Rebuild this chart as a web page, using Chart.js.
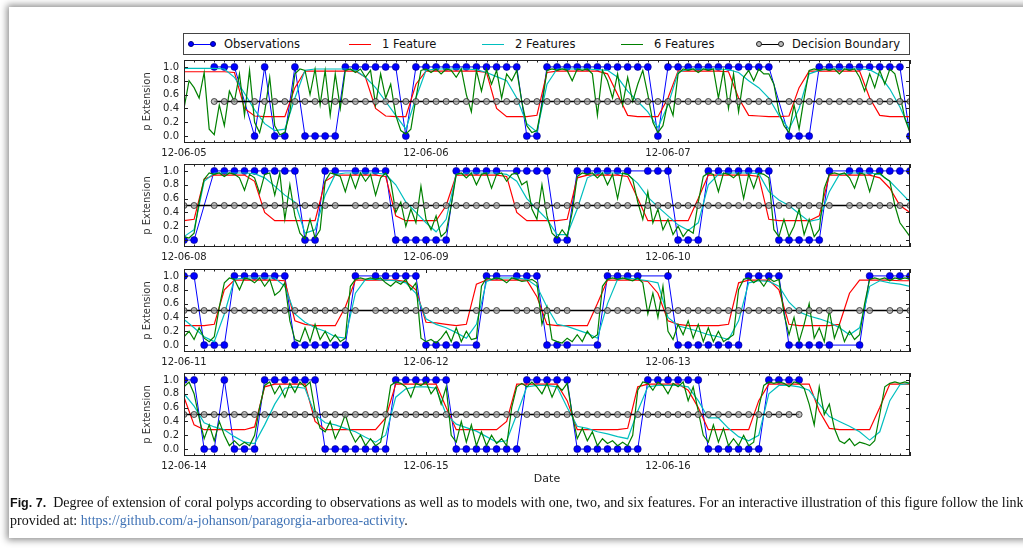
<!DOCTYPE html>
<html>
<head>
<meta charset="utf-8">
<script src="https://cdn.jsdelivr.net/npm/chart.js@4.4.1/dist/chart.umd.min.js"></script>
<style>
  body { margin: 0; width: 1023px; height: 558px; overflow: hidden; background: #fff; position: relative; font-family: 'DejaVu Sans', sans-serif; }
  #card { position: absolute; left: 9px; top: 7px; width: 1100px; height: 531px; background: #fff; box-shadow: 0 0 7px 2px rgba(0,0,0,0.45); }
  .panel { position: absolute; left: 130px; }
  #legend { position: absolute; left: 183px; top: 33px; width: 725px; height: 20px; border: 1px solid #444; background: #fff; }
  .item { position: absolute; top: 0; height: 20px; }
  .sample { position: absolute; left: 0; top: 10px; width: 22px; height: 0; border-top: 1.5px solid; }
  .dot { position: absolute; top: -4.5px; width: 6px; height: 6px; border-radius: 50%; box-sizing: border-box; }
  .label { position: absolute; top: 0; left: 33px; line-height: 20px; font-size: 11.5px; color: #111; white-space: nowrap; }
  #caption { position: absolute; left: 10px; top: 494px; font-family: 'Liberation Serif', serif; font-size: 14px; line-height: 18px; white-space: nowrap; color: #111; }
  #caption .fig { font-family: 'Liberation Sans', sans-serif; font-weight: bold; font-size: 12.5px; }
  #caption .link { color: #3f72b5; }
</style>
</head>
<body>
<div id="card"></div>
<div id="legend"></div>
<canvas id="p1" class="panel" width="800" height="114" style="top:49px"></canvas>
<canvas id="p2" class="panel" width="800" height="114" style="top:153px"></canvas>
<canvas id="p3" class="panel" width="800" height="114" style="top:258px"></canvas>
<canvas id="p4" class="panel" width="800" height="136" style="top:362px"></canvas>
<div id="caption"><span class="fig">Fig. 7.</span>&nbsp; Degree of extension of coral polyps according to observations as well as to models with one, two, and six features. For an interactive illustration of this figure follow the link<br>provided at: <span class="link">https://github.com/a-johanson/paragorgia-arborea-activity</span>.</div>
<script>
// tick labels
const days1 = ['12-06-05', '12-06-06', '12-06-07'];
const days2 = ['12-06-08', '12-06-09', '12-06-10'];
const days3 = ['12-06-11', '12-06-12', '12-06-13'];
const days4 = ['12-06-14', '12-06-15', '12-06-16'];
const yTicks = [0, 0.2, 0.4, 0.6, 0.8, 1.0];
const threshold = 0.5;

// observations, one value per hour (null = no observation)
const obsP1 = [null,null,null,1,1,1,null,0,1,0,0,1,
  0,0,0,0,1,1,1,1,1,1,0,1,
  1,1,1,1,1,1,1,1,1,1,0,0,
  1,1,1,1,1,1,1,1,1,1,1,0,
  1,1,1,1,1,1,1,1,1,1,1,null,
  0,0,0,1,1,1,1,1,1,1,1,1,
  0];
const obsP2 = [0,0,null,1,1,1,1,1,1,1,1,1,
  0,0,1,1,null,1,1,1,1,0,0,0,
  0,0,0,1,1,1,1,1,null,1,1,1,
  1,0,0,1,1,1,1,1,1,null,1,1,
  1,0,0,0,1,1,1,1,1,1,1,0,
  0,0,0,0,1,null,1,1,1,1,1,1,
  1];
const obsP3 = [1,1,0,0,0,1,1,1,1,1,1,0,
  0,0,0,0,0,1,null,1,1,1,1,1,
  0,0,0,0,null,0,1,1,null,1,1,1,
  0,0,0,null,null,0,1,1,1,1,null,null,
  1,0,0,0,0,0,0,0,1,1,1,1,
  0,0,0,0,0,null,null,0,1,null,1,1,
  1];
const obsP4 = [1,1,0,0,1,0,0,0,1,1,1,1,
  1,1,0,0,0,0,0,0,0,1,1,1,
  1,1,1,0,0,0,0,0,0,0,1,1,
  1,1,1,0,0,0,0,0,0,0,1,1,
  1,1,1,1,0,0,0,0,0,0,1,1,
  1,1,null,null,null,null,null,null,null,null,null,null,
  null];

// model with 1 feature, hourly
const oneFeatP1 = [.93,.93,.93,.93,.93,.92,.40,.29,.28,.28,.28,.70,
  .94,.94,.94,.94,.94,.94,.85,.40,.29,.28,.28,.75,
  .94,.94,.94,.94,.94,.94,.92,.40,.28,.28,.28,.30,
  .92,.94,.94,.94,.94,.94,.90,.60,.30,.28,.28,.28,
  .55,.94,.94,.94,.94,.94,.93,.55,.30,.29,.28,.28,
  .29,.70,.94,.94,.94,.94,.94,.94,.55,.30,.28,.28,
  .28];
const oneFeatP2 = [.28,.30,.88,.94,.94,.94,.94,.85,.40,.28,.28,.28,
  .28,.28,.85,.94,.94,.94,.94,.94,.92,.35,.28,.28,
  .28,.28,.50,.94,.94,.94,.94,.94,.92,.40,.28,.28,
  .28,.28,.30,.90,.94,.94,.94,.94,.92,.60,.28,.28,
  .28,.28,.28,.60,.94,.94,.94,.94,.94,.92,.30,.28,
  .28,.28,.28,.35,.94,.94,.94,.94,.94,.90,.75,.50,
  .40];
const oneFeatP3 = [.28,.28,.28,.30,.80,.94,.94,.94,.94,.94,.93,.35,
  .30,.28,.28,.28,.55,.94,.94,.94,.94,.94,.92,.80,
  .33,.32,.30,.28,.30,.88,.94,.94,.94,.94,.94,.70,
  .30,.28,.28,.28,.28,.60,.94,.94,.94,.94,.92,.75,
  .35,.30,.28,.28,.28,.28,.30,.90,.94,.94,.94,.80,
  .30,.28,.28,.28,.28,.30,.75,.94,.94,.94,.94,.93,
  .93];
const oneFeatP4 = [.75,.35,.28,.28,.28,.28,.28,.32,.90,.94,.94,.94,
  .94,.40,.28,.28,.28,.28,.28,.28,.45,.94,.94,.94,
  .94,.94,.60,.28,.28,.28,.28,.28,.40,.94,.94,.94,
  .94,.94,.70,.28,.28,.28,.28,.28,.30,.90,.94,.94,
  .94,.94,.85,.60,.28,.28,.28,.28,.28,.70,.94,.94,
  .94,.94,.94,.55,.30,.28,.28,.28,.28,.60,.94,.94,
  .94];

// model with 2 features, hourly
const twoFeatP1 = [.98,.98,.98,.98,.97,.85,.62,.38,.18,.08,.10,.55,
  .95,.97,.97,.97,.97,.95,.85,.70,.50,.30,.10,.55,
  .95,.97,.97,.97,.97,.96,.92,.86,.80,.55,.18,.06,
  .75,.97,.97,.97,.97,.96,.95,.85,.65,.50,.35,.12,
  .45,.92,.97,.97,.97,.97,.96,.92,.80,.70,.55,.30,
  .10,.40,.90,.95,.97,.97,.97,.97,.96,.88,.68,.42,
  .10];
const twoFeatP2 = [.05,.15,.85,.97,.97,.97,.97,.96,.90,.78,.65,.55,
  .10,.15,.65,.95,.97,.97,.97,.97,.95,.80,.55,.40,
  .25,.12,.30,.95,.97,.97,.97,.97,.95,.85,.60,.45,
  .30,.08,.08,.45,.90,.97,.97,.97,.95,.82,.62,.48,
  .35,.22,.14,.25,.80,.95,.97,.97,.97,.96,.70,.58,
  .50,.38,.27,.30,.70,.95,.97,.97,.97,.95,.85,.70,
  .55];
const twoFeatP3 = [.37,.25,.12,.05,.45,.95,.97,.97,.97,.97,.85,.45,
  .33,.25,.20,.12,.10,.75,.95,.95,.94,.93,.90,.75,
  .38,.30,.25,.18,.10,.30,.92,.97,.97,.97,.95,.85,
  .55,.30,.27,.22,.17,.10,.60,.95,.97,.95,.93,.90,
  .40,.28,.24,.20,.15,.12,.08,.35,.90,.93,.92,.85,
  .62,.48,.42,.38,.33,.25,.15,.25,.85,.93,.90,.88,
  .85];
const twoFeatP4 = [.80,.62,.38,.32,.28,.18,.10,.08,.35,.65,.88,.90,
  .88,.50,.38,.35,.30,.25,.17,.10,.20,.75,.87,.90,
  .90,.88,.50,.36,.31,.26,.18,.10,.12,.50,.90,.92,
  .92,.90,.60,.33,.30,.25,.22,.18,.15,.55,.90,.92,
  .92,.92,.90,.70,.45,.45,.30,.18,.12,.20,.80,.92,
  .92,.90,.85,.65,.47,.40,.33,.25,.13,.25,.70,.93,
  .95];

// model with 6 features, every half hour
const sixFeatP1 = [.40,.80,.70,.55,.92,.10,.02,.45,.15,.65,
  .50,.90,.30,.95,.20,.05,.35,.85,.15,.02,
  .05,.35,.90,.97,.95,.60,.97,.45,.95,.30,
  .90,.40,.95,.97,.92,.97,.85,.95,.45,.90,
  .55,.75,.30,.08,.03,.10,.55,.95,.97,.92,
  .97,.90,.97,.95,.85,.97,.60,.35,.95,.65,
  .97,.75,.95,.55,.90,.80,.95,.50,.15,.05,
  .08,.45,.95,.97,.95,.97,.95,.80,.97,.95,
  .97,.90,.30,.95,.80,.55,.90,.45,.85,.50,
  .75,.95,.60,.20,.05,.15,.50,.30,.90,.97,
  .95,.97,.92,.97,.95,.97,.55,.95,.40,.90,
  .35,.85,.95,.80,.97,.90,.90,.75,.35,.15,
  .05,.45,.10,.55,.95,.97,.95,.97,.95,.97,
  .90,.97,.95,.97,.85,.65,.90,.70,.95,.75,
  .97,.90,.60,.25,.05];
const sixFeatP2 = [.05,.03,.10,.55,.88,.97,.95,.97,.92,.97,
  .95,.90,.72,.95,.90,.68,.95,.97,.65,.97,
  .30,.80,.35,.10,.02,.30,.03,.15,.85,.97,
  .95,.92,.70,.95,.75,.97,.85,.95,.65,.90,
  .97,.85,.40,.55,.20,.45,.25,.78,.30,.15,
  .35,.05,.12,.50,.95,.97,.90,.97,.80,.95,
  .97,.75,.95,.97,.85,.95,.97,.80,.85,.45,
  .30,.80,.35,.10,.03,.15,.05,.40,.92,.97,
  .95,.97,.90,.97,.80,.95,.60,.97,.95,.88,
  .55,.30,.70,.25,.45,.15,.30,.08,.20,.05,
  .15,.10,.55,.92,.97,.95,.70,.97,.95,.90,
  .97,.60,.95,.75,.97,.95,.90,.15,.05,.30,
  .05,.20,.45,.08,.30,.05,.15,.75,.95,.97,
  .95,.97,.90,.75,.97,.95,.70,.95,.97,.90,
  .85,.50,.25,.15,.05];
const sixFeatP3 = [.12,.20,.08,.25,.10,.05,.12,.55,.90,.97,
  .95,.80,.97,.95,.90,.97,.85,.95,.72,.78,
  .90,.35,.08,.05,.25,.05,.30,.08,.20,.05,
  .15,.05,.10,.85,.95,.97,.95,.97,.95,.97,
  .90,.85,.92,.88,.95,.80,.90,.10,.05,.08,
  .03,.10,.20,.05,.25,.05,.20,.08,.10,.85,
  .97,.95,.97,.95,.90,.97,.95,.92,.93,.95,
  .90,.30,.55,.08,.05,.03,.10,.05,.15,.05,
  .20,.10,.15,.85,.95,.97,.95,.97,.95,.93,
  .97,.90,.45,.75,.40,.85,.20,.08,.30,.15,
  .35,.10,.30,.05,.25,.05,.20,.05,.10,.15,
  .80,.95,.97,.90,.95,.85,.97,.92,.95,.45,
  .15,.40,.05,.30,.60,.10,.25,.05,.50,.10,
  .30,.05,.20,.08,.15,.60,.95,.97,.95,.97,
  .93,.97,.95,.97,.95];
const sixFeatP4 = [.90,.97,.80,.45,.15,.35,.12,.40,.20,.05,
  .12,.05,.10,.05,.20,.60,.92,.97,.80,.92,
  .75,.95,.82,.97,.90,.97,.55,.30,.25,.40,
  .15,.30,.50,.25,.10,.20,.05,.15,.05,.10,
  .45,.92,.97,.95,.90,.75,.95,.92,.97,.80,
  .90,.65,.90,.20,.10,.40,.10,.35,.05,.25,
  .05,.20,.08,.15,.05,.60,.90,.95,.90,.97,
  .90,.80,.95,.75,.92,.85,.95,.50,.15,.30,
  .12,.25,.05,.15,.08,.12,.05,.10,.05,.20,
  .85,.97,.95,.85,.97,.92,.80,.95,.90,.97,
  .70,.90,.55,.20,.10,.35,.10,.30,.05,.15,
  .05,.20,.05,.10,.60,.92,.97,.95,.97,.95,
  .90,.97,.95,.88,.65,.35,.90,.50,.65,.30,
  .12,.08,.15,.05,.10,.08,.05,.12,.50,.90,
  .95,.97,.95,.97,.95];

const seriesNames = ['Observations', '1 Feature', '2 Features', '6 Features', 'Decision Boundary'];
const seriesColors = ['#0000ff', '#ff0000', '#00bfbf', '#008000', '#000000'];

Chart.defaults.font.family = "'DejaVu Sans', sans-serif";
Chart.defaults.color = '#222';

// legend drawn like the matplotlib one (expanded in a box)
const legendX = [7, 165, 298, 437, 575];
const legend = document.getElementById('legend');
seriesNames.forEach((name, i) => {
  const it = document.createElement('div');
  it.className = 'item';
  it.style.left = legendX[i] + 'px';
  const s = document.createElement('div');
  s.className = 'sample';
  s.style.borderColor = seriesColors[i];
  if (i === 0 || i === 4) {
    [-3, 19].forEach(l => {
      const d = document.createElement('span');
      d.className = 'dot';
      d.style.left = l + 'px';
      d.style.background = i === 0 ? '#0000ff' : '#bbb';
      d.style.border = i === 0 ? '0.6px solid #000080' : '1px solid #222';
      s.appendChild(d);
    });
  }
  const t = document.createElement('span');
  t.className = 'label';
  t.textContent = name;
  it.appendChild(s);
  it.appendChild(t);
  legend.appendChild(it);
});

// box around the plot area with inward ticks
const framePlugin = {
  id: 'frame',
  afterDraw(chart) {
    const { ctx, chartArea: a, scales: { x, y } } = chart;
    ctx.save();
    ctx.strokeStyle = '#222';
    ctx.lineWidth = 1;
    ctx.beginPath();
    x.ticks.forEach(t => {
      const px = Math.round(x.getPixelForValue(t.value)) + 0.5;
      const len = t.value % 24 === 0 ? 4 : 2.5;
      ctx.moveTo(px, a.bottom); ctx.lineTo(px, a.bottom - len);
      ctx.moveTo(px, a.top); ctx.lineTo(px, a.top + len);
    });
    y.ticks.forEach(t => {
      const py = Math.round(y.getPixelForValue(t.value)) + 0.5;
      ctx.moveTo(a.left, py); ctx.lineTo(a.left + 4, py);
      ctx.moveTo(a.right, py); ctx.lineTo(a.right - 4, py);
    });
    ctx.stroke();
    ctx.strokeRect(Math.round(a.left) + 0.5, Math.round(a.top) + 0.5,
      Math.round(a.right - a.left) - 1, Math.round(a.bottom - a.top) - 1);
    ctx.restore();
  }
};

const hourTicks = Array.from({ length: 73 }, (_, i) => i);

function makePanel(id, days, obs, one, two, six, last) {
  const hourly = arr => arr.map((v, i) => ({ x: i, y: v }));
  const boundary = obs.map((v, i) => ({ x: i, y: v === null ? null : threshold }));
  return new Chart(document.getElementById(id), {
    type: 'line',
    data: {
      datasets: [
        { label: seriesNames[0], data: hourly(obs), borderColor: seriesColors[0], borderWidth: 1,
          pointRadius: 3.5, pointBackgroundColor: '#0000ff', pointBorderColor: '#000080', pointBorderWidth: 0.6,
          spanGaps: true, order: 5 },
        { label: seriesNames[1], data: hourly(one), borderColor: seriesColors[1], borderWidth: 1.2,
          pointRadius: 0, order: 4 },
        { label: seriesNames[2], data: hourly(two), borderColor: seriesColors[2], borderWidth: 1.2,
          pointRadius: 0, order: 3 },
        { label: seriesNames[3], data: six.map((v, i) => ({ x: i / 2, y: v })), borderColor: seriesColors[3],
          borderWidth: 1.2, pointRadius: 0, order: 2 },
        { label: seriesNames[4], data: boundary, borderColor: seriesColors[4], borderWidth: 1.6,
          pointRadius: 3, pointBackgroundColor: 'rgba(170,170,170,0.7)', pointBorderColor: '#222',
          pointBorderWidth: 0.8, spanGaps: true, order: 1 }
      ]
    },
    options: {
      responsive: false,
      animation: false,
      devicePixelRatio: 1,
      layout: { padding: { top: 8, right: 20, left: 0, bottom: 0 } },
      plugins: { legend: { display: false }, tooltip: { enabled: false } },
      scales: {
        x: {
          type: 'linear', min: 0, max: 72,
          afterBuildTicks: s => { s.ticks = hourTicks.map(v => ({ value: v })); },
          afterFit: s => { s.height = last ? 42 : 20; },
          grid: { display: false, drawTicks: false },
          border: { display: false },
          ticks: {
            autoSkip: false, maxRotation: 0, padding: 4,
            font: { size: 10 }, color: '#222',
            callback: v => (v % 24 === 0 && v < 72) ? days[v / 24] : ''
          },
          title: { display: last, text: 'Date', font: { size: 11 }, color: '#222', padding: { top: 0, bottom: 12 } }
        },
        y: {
          min: -0.1, max: 1.1,
          afterBuildTicks: s => { s.ticks = yTicks.map(v => ({ value: v })); },
          afterFit: s => { s.width = 54; },
          grid: { display: false, drawTicks: false },
          border: { display: false },
          ticks: { padding: 5, font: { size: 10 }, color: '#222', callback: v => v.toFixed(1) },
          title: { display: true, text: 'p Extension', font: { size: 10 }, color: '#333', padding: { top: 11 } }
        }
      }
    },
    plugins: [framePlugin]
  });
}

makePanel('p1', days1, obsP1, oneFeatP1, twoFeatP1, sixFeatP1, false);
makePanel('p2', days2, obsP2, oneFeatP2, twoFeatP2, sixFeatP2, false);
makePanel('p3', days3, obsP3, oneFeatP3, twoFeatP3, sixFeatP3, false);
makePanel('p4', days4, obsP4, oneFeatP4, twoFeatP4, sixFeatP4, true);
</script>
</body>
</html>
